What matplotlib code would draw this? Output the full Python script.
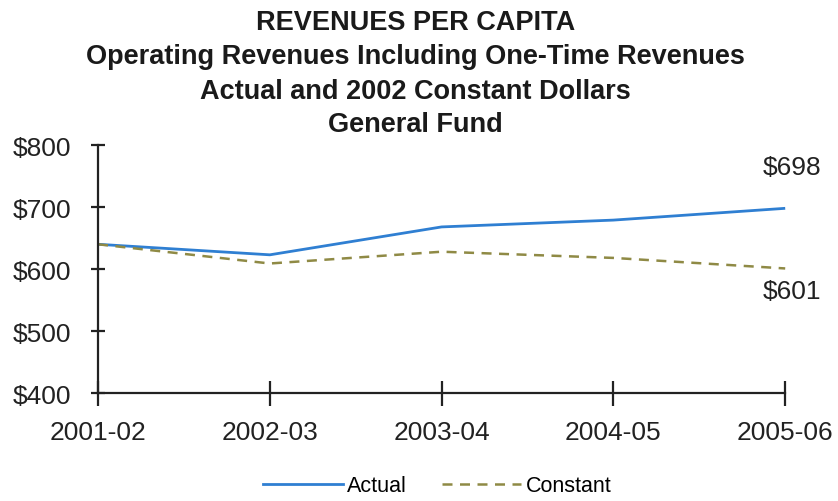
import matplotlib
import matplotlib.pyplot as plt
from matplotlib.lines import Line2D

matplotlib.use("Agg")

plt.rcParams["font.family"] = ["Liberation Sans", "DejaVu Sans"]

years = ["2001-02", "2002-03", "2003-04", "2004-05", "2005-06"]
actual = [640, 623, 668, 679, 698]
constant = [640, 609, 628, 618, 601]
y_ticks = [400, 500, 600, 700, 800]
title_lines = [
    "REVENUES PER CAPITA",
    "Operating Revenues Including One-Time Revenues",
    "Actual and 2002 Constant Dollars",
    "General Fund",
]

blue = "#2f7fd2"
olive = "#8f8a45"
ink = "#222222"

fig = plt.figure(figsize=(8.38, 5.02), dpi=100)
ax = fig.add_axes([0.117, 0.215, 0.820, 0.494])

x = list(range(len(years)))
ax.plot(x, actual, color=blue, lw=2.0, solid_capstyle="butt", clip_on=False)
ax.plot(x, constant, color=olive, lw=1.8, dashes=(4, 3), clip_on=False)

ax.set_xlim(0, len(years) - 1)
ax.set_ylim(y_ticks[0], y_ticks[-1])
ax.set_xticks(x)
ax.set_xticklabels(years)
ax.set_yticks(y_ticks)
ax.set_yticklabels([f"${v}" for v in y_ticks])

for side in ("top", "right"):
    ax.spines[side].set_visible(False)
for side in ("left", "bottom"):
    ax.spines[side].set_linewidth(1.6)
    ax.spines[side].set_color(ink)

ax.tick_params(axis="x", direction="inout", length=18, width=1.6, pad=10.4,
               labelsize=19, colors=ink)
ax.tick_params(axis="y", direction="inout", length=10, width=1.6, pad=14,
               labelsize=19, colors=ink)

# end-point value labels
ax.annotate(f"${actual[-1]}", (x[-1], actual[-1]), xytext=(36, 41),
            textcoords="offset pixels", ha="right", va="center",
            fontsize=19, color=ink)
ax.annotate(f"${constant[-1]}", (x[-1], constant[-1]), xytext=(36, -23),
            textcoords="offset pixels", ha="right", va="center",
            fontsize=19, color=ink)

title_y = [0.955, 0.886, 0.817, 0.750]
for line, ty in zip(title_lines, title_y):
    fig.text(0.496, ty, line, ha="center", va="center", fontsize=19.5,
             fontweight="bold", color="#1a1a1a")

handles = [
    Line2D([], [], color=blue, lw=2.0),
    Line2D([], [], color=olive, lw=1.8, dashes=(4, 3)),
]
fig.legend(handles, ["Actual", "Constant"], loc="center",
           bbox_to_anchor=(0.522, 0.03), ncol=2, frameon=False, fontsize=15.5,
           handlelength=3.7, handletextpad=0.2, columnspacing=1.6,
           borderpad=0.1)

fig.savefig("out.png", dpi=100)
